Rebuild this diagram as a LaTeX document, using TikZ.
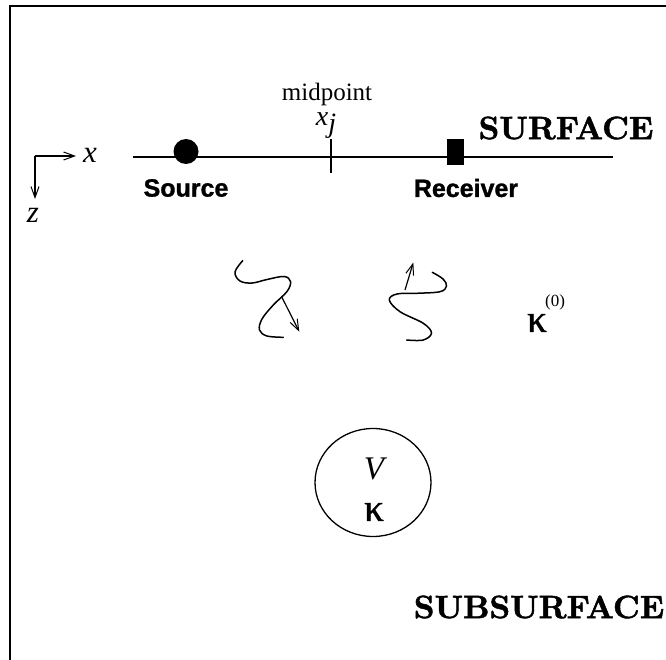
\documentclass[tikz,border=0pt]{standalone}
\usepackage{fontspec}
\usetikzlibrary{arrows.meta,shapes.geometric}
\newfontfamily\tms{Liberation Serif}
\newfontfamily\grk{Liberation Serif}[FakeBold=1.2]
\newfontfamily\hlv{Liberation Sans}[BoldFeatures={FakeBold=1.2}]
\newfontfamily\cmheavy{lmroman10-bold}[Extension=.otf, FakeBold=1.6]
\tikzset{
  frameline/.style={line width=1.5pt},
  thin line/.style={line width=1.3pt},
  barb/.style={-{Straight Barb[length=11pt,width=8pt,line width=1pt]}, line width=1.2pt},
  wave/.style={line width=1.5pt, line cap=round},
  lbl/.style={inner sep=0pt, anchor=center},
  tmsbig/.style={lbl, font=\tms\fontsize{25}{25}\selectfont},
  tmsit/.style={lbl, font=\tms\itshape\fontsize{31}{31}\selectfont},
  sanslbl/.style={lbl, font=\hlv\bfseries\fontsize{25}{25}\selectfont},
  cmbold/.style={lbl, font=\cmheavy\fontsize{32.3}{32.3}\selectfont},
  greek/.style={lbl, font=\grk\fontsize{39}{39}\selectfont},
}
\begin{document}
\begin{tikzpicture}[x=1pt, y=-1pt]
\useasboundingbox (0,0) rectangle (666,660);

% frame (only left and top edges show)
\coordinate (fbl) at (10,661);
\coordinate (ftl) at (10,6);
\coordinate (ftr) at (667,6);
\draw[frameline] (fbl) -- (ftl) -- (ftr);

% axes
\coordinate (o) at (35,156);
\coordinate (xe) at (76,156);
\coordinate (ze) at (35,199);
\draw[barb] (o) -- (xe);
\draw[barb] (o) -- (ze);
\node[tmsit] (xl) at (90,155) {x};
\node[tmsit] (zl) at (33,215) {z};

% surface line with source, receiver and midpoint
\coordinate (sl) at (133,157);
\coordinate (sr) at (613,157);
\draw[thin line] (sl) -- (sr);
\node[circle, fill=black, minimum size=25pt, inner sep=0pt] (src) at (186,151.5) {};
\node[rectangle, fill=black, minimum width=17pt, minimum height=26pt, inner sep=0pt] (rcv) at (455.5,152) {};
\coordinate (mt) at (331,139);
\coordinate (mb) at (331,173);
\draw[thin line] (mt) -- (mb);

\node[tmsbig, anchor=base] (mid) at (327,101) {midpoint};
\node[tmsit, anchor=base, font=\tms\itshape\fontsize{28}{28}\selectfont] (xj) at (326,126) {x\raisebox{-7pt}{j}};
\node[sanslbl] (srcl) at (186,188) {Source};
\node[sanslbl] (rcvl) at (466,188) {Receiver};
\node[cmbold] (surf) at (566,128) {SURFACE};

% incident wave
\draw[wave] plot[smooth, tension=0.6] coordinates {
  (242.7,260.7) (235,272) (240,281) (252,283) (267,279.5) (284,276.5)
  (290.5,281.5) (287,291.5) (273.3,305) (262,319) (259.5,330) (267,336) (283.3,337.3)};
\coordinate (wa) at (281.5,296.5);
\coordinate (wb) at (299.3,331.7);
\draw[barb] (wa) -- (wb);

% scattered wave
\draw[wave] plot[smooth, tension=0.6] coordinates {
  (432.3,272.3) (443,279) (446.5,286) (440,291.7) (416.7,293.3) (397,294)
  (389.3,300) (400,311.7) (423.3,323.3) (431.5,333) (423.3,340) (406.7,340)};
\coordinate (wc) at (405,290);
\coordinate (wd) at (413.3,262.5);
\draw[barb] (wc) -- (wd);

% background medium
\node[greek] (k0) at (537,323) {κ};
\node[lbl, font=\tms\fontsize{17}{17}\selectfont] (k0s) at (555,302) {(0)};

% scatterer
\node[draw, ellipse, thin line, minimum width=116pt, minimum height=108pt] (vol) at (373,482.5) {};
\node[tmsit, font=\tms\itshape\fontsize{33}{33}\selectfont] (vl) at (374,469) {V};
\node[greek] (kv) at (374,512) {κ};

\node[cmbold] (subs) at (539,607) {SUBSURFACE};
\end{tikzpicture}
\end{document}
